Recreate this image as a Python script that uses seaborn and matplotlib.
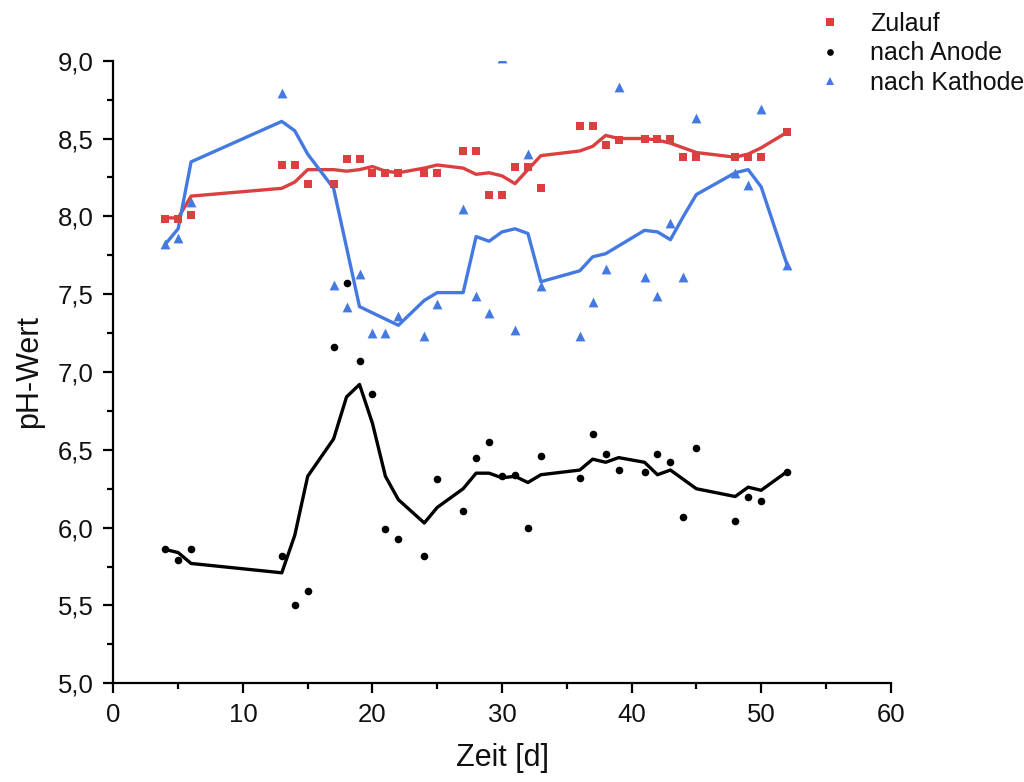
import numpy as np
import pandas as pd
import matplotlib
matplotlib.use("Agg")
import matplotlib.pyplot as plt
from matplotlib.ticker import FuncFormatter, MultipleLocator
import seaborn as sns

# Messtage
days = [4, 5, 6, 13, 14, 15, 17, 18, 19, 20, 21, 22, 24, 25, 27, 28, 29, 30,
        31, 32, 33, 36, 37, 38, 39, 41, 42, 43, 44, 45, 48, 49, 50, 52]

# Einzelmesswerte pH
zulauf = [7.98, 7.98, 8.01, 8.33, 8.33, 8.21, 8.21, 8.37, 8.37, 8.28, 8.28, 8.28,
          8.28, 8.28, 8.42, 8.42, 8.14, 8.14, 8.32, 8.32, 8.18, 8.58, 8.58, 8.46,
          8.49, 8.50, 8.50, 8.50, 8.38, 8.38, 8.38, 8.38, 8.38, 8.54]
anode = [5.86, 5.79, 5.86, 5.82, 5.50, 5.59, 7.16, 7.57, 7.07, 6.86, 5.99, 5.93,
         5.82, 6.31, 6.11, 6.45, 6.55, 6.33, 6.34, 6.00, 6.46, 6.32, 6.60, 6.47,
         6.37, 6.36, 6.47, 6.42, 6.07, 6.51, 6.04, 6.20, 6.17, 6.36]
kathode = [7.82, 7.86, 8.09, 8.79, np.nan, np.nan, 7.56, 7.42, 7.63, 7.25, 7.25, 7.36,
           7.23, 7.44, 8.05, 7.49, 7.38, 9.02, 7.27, 8.40, 7.55, 7.23, 7.45, 7.66,
           8.83, 7.61, 7.49, 7.96, 7.61, 8.63, 8.28, 8.20, 8.69, 7.69]

# Geglättete Verläufe
zulauf_trend = [7.99, 7.99, 8.13, 8.18, 8.22, 8.30, 8.30, 8.29, 8.30, 8.32, 8.29, 8.28,
                8.31, 8.33, 8.31, 8.27, 8.28, 8.26, 8.21, 8.30, 8.39, 8.42, 8.45, 8.52,
                8.50, 8.50, 8.49, 8.47, 8.44, 8.41, 8.38, 8.40, 8.44, 8.54]
anode_trend = [5.86, 5.84, 5.77, 5.71, 5.95, 6.33, 6.57, 6.84, 6.92, 6.67, 6.33, 6.18,
               6.03, 6.13, 6.25, 6.35, 6.35, 6.32, 6.33, 6.29, 6.34, 6.37, 6.44, 6.42,
               6.45, 6.42, 6.34, 6.37, 6.31, 6.25, 6.20, 6.26, 6.24, 6.36]
kathode_trend = [7.82, 7.92, 8.35, 8.61, 8.55, 8.40, 8.18, 7.80, 7.42, 7.38, 7.34, 7.30,
                 7.46, 7.51, 7.51, 7.87, 7.84, 7.90, 7.92, 7.89, 7.58, 7.65, 7.74, 7.76,
                 7.81, 7.91, 7.90, 7.85, 8.00, 8.14, 8.28, 8.30, 8.19, 7.69]

series_names = ["Zulauf", "nach Anode", "nach Kathode"]
colors = {"Zulauf": "#db3f3f", "nach Anode": "#000000", "nach Kathode": "#4479e2"}
markers = {"Zulauf": "s", "nach Anode": "o", "nach Kathode": "^"}
sizes = {"Zulauf": 32, "nach Anode": 30, "nach Kathode": 50}

points = pd.DataFrame({
    "Zeit": days * 3,
    "pH": zulauf + anode + kathode,
    "Messstelle": np.repeat(series_names, len(days)),
})
trends = pd.DataFrame({
    "Zeit": days * 3,
    "pH": zulauf_trend + anode_trend + kathode_trend,
    "Messstelle": np.repeat(series_names, len(days)),
})

sns.set_theme(style="ticks")
plt.rcParams["font.family"] = ["Liberation Sans", "DejaVu Sans"]
plt.rcParams["text.color"] = "#111111"

fig = plt.figure(figsize=(10.24, 7.82), dpi=100)
ax = fig.add_axes([0.1107, 0.1262, 0.7591, 0.7962])

sns.lineplot(data=trends, x="Zeit", y="pH", hue="Messstelle", palette=colors,
             hue_order=series_names, linewidth=2.4, legend=False, ax=ax, sort=False)

handles = []
for name in series_names:
    sub = points[points["Messstelle"] == name]
    sns.scatterplot(data=sub, x="Zeit", y="pH", color=colors[name],
                    marker=markers[name], s=sizes[name], linewidth=0,
                    legend=False, ax=ax, zorder=3)
    handles.append(plt.Line2D([], [], linestyle="none", marker=markers[name],
                              markeredgewidth=0, color=colors[name],
                              markersize=5.5 if name != "nach Anode" else 4.8))

ax.set_xlim(0, 60)
ax.set_ylim(5.0, 9.0)
ax.xaxis.set_major_locator(MultipleLocator(10))
ax.xaxis.set_minor_locator(MultipleLocator(5))
ax.yaxis.set_major_locator(MultipleLocator(0.5))
ax.yaxis.set_minor_locator(MultipleLocator(0.25))
ax.yaxis.set_major_formatter(FuncFormatter(lambda v, p: f"{v:.1f}".replace(".", ",")))

for side in ("top", "right"):
    ax.spines[side].set_visible(False)
for side in ("left", "bottom"):
    ax.spines[side].set_linewidth(1.6)
    ax.spines[side].set_color("black")
ax.tick_params(which="major", direction="out", length=7.5, width=1.6, labelsize=18.5,
               colors="black", labelcolor="#111111", pad=6.5)
ax.tick_params(which="minor", direction="out", length=4.5, width=1.6, colors="black")

ax.set_xlabel("Zeit [d]", fontsize=22, labelpad=12, color="#111111")
ax.set_ylabel("pH-Wert", fontsize=22, labelpad=10, color="#111111")

fig.legend(handles, series_names, loc="upper left", bbox_to_anchor=(0.784, 1.004),
           frameon=False, fontsize=18, handlelength=1.0, handletextpad=1.1,
           labelspacing=0.22, borderaxespad=0.2)

fig.savefig("out.png", dpi=100, facecolor="white")
